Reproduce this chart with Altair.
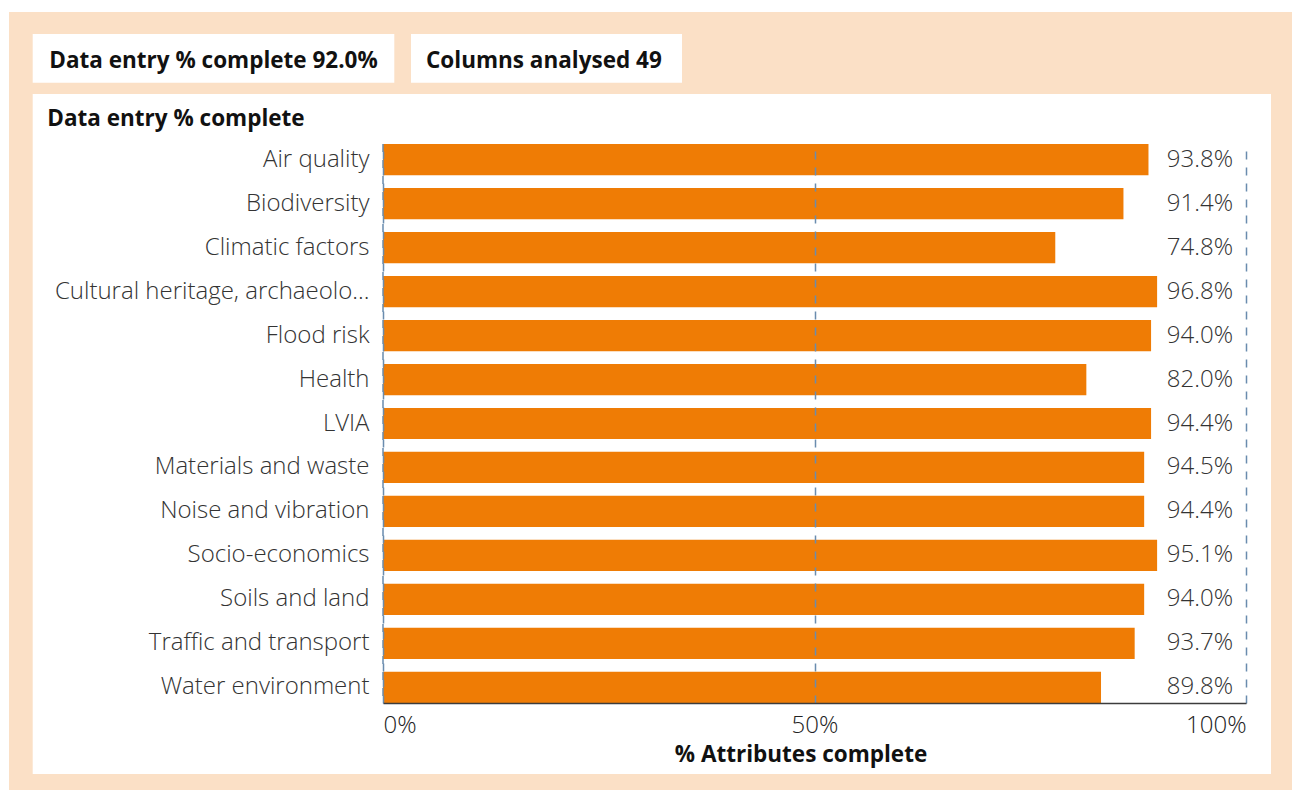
import altair as alt
import pandas as pd

# ---- data ----
categories = [
    "Air quality", "Biodiversity", "Climatic factors",
    "Cultural heritage, archaeolo...", "Flood risk", "Health", "LVIA",
    "Materials and waste", "Noise and vibration", "Socio-economics",
    "Soils and land", "Traffic and transport", "Water environment",
]
# bar lengths as drawn (share of the axis, %)
bar_values = [88.7, 85.8, 77.9, 89.7, 89.0, 81.5, 89.0, 88.2, 88.2, 89.7, 88.2, 87.1, 83.2]
# value labels printed at the right
label_values = [93.8, 91.4, 74.8, 96.8, 94.0, 82.0, 94.4, 94.5, 94.4, 95.1, 94.0, 93.7, 89.8]

kpi_names = ["Data entry % complete", "Columns analysed"]
kpi_values = ["92.0%", "49"]
panel_title = "Data entry % complete"
x_title = "% Attributes complete"
x_ticks = [0, 50, 100]

# ---- layout (pixels) ----
W, H = 863, 559
OX, OY = 383, 144          # plot origin on the page
PAGE_W, PAGE_H = 1292, 790
FONT = "Open Sans"
PEACH = "#FBE0C6"
ORANGE = "#EF7C05"
TEXT = "#333333"
GRID = "#6A8CAE"
LSIZE = 24
BSIZE = 22.5

df = pd.DataFrame({
    "category": categories,
    "bar": bar_values,
    "label": [f"{v:.1f}%" for v in label_values],
})

def px(v):
    return alt.value(v - OX)

def py(v):
    return alt.value(v - OY)

one = pd.DataFrame({"k": [0]})

def rect(x0, x1, y0, y1, color):
    return alt.Chart(one).mark_rect(color=color).encode(
        x=px(x0), x2=px(x1), y=py(y0), y2=py(y1)
    )

def label(txt, x, y, weight="bold", size=BSIZE, color="#111111"):
    return alt.Chart(pd.DataFrame({"t": [txt]})).mark_text(
        align="left", baseline="alphabetic", font=FONT, fontSize=size,
        fontWeight=weight, color=color
    ).encode(x=px(x), y=py(y), text="t:N")

bg = rect(9, PAGE_W, 12, PAGE_H, PEACH)
box1 = rect(32.7, 394.3, 34, 82.7, "white")
box2 = rect(411, 682, 34, 82.7, "white")
panel = rect(32.7, 1271, 94, 774, "white")

kpi1 = label(f"{kpi_names[0]} {kpi_values[0]}", 49.3, 68.3)
kpi2 = label(f"{kpi_names[1]} {kpi_values[1]}", 426, 68.3)
ttl = label(panel_title, 47.3, 126)

y_enc = alt.Y(
    "category:N", sort=categories, title=None,
    scale=alt.Scale(paddingInner=0.29, paddingOuter=0),
    axis=alt.Axis(domain=False, ticks=False, grid=False, labelPadding=14,
                  labelLimit=400, labelFontSize=LSIZE, labelFont=FONT,
                  labelFontWeight=300, labelColor=TEXT, zindex=1),
)

bars = alt.Chart(df).mark_bar(color=ORANGE).encode(
    x=alt.X(
        "bar:Q", title=x_title,
        scale=alt.Scale(domain=[0, 100], nice=False, zero=True),
        axis=alt.Axis(
            values=x_ticks, labelExpr="datum.value + '%'", labelFlush=True,
            ticks=False, grid=True, gridColor=GRID, gridDash=[8, 8],
            gridWidth=1.5, domain=True, domainColor="#3C3C3C", domainWidth=1.5,
            labelFontSize=LSIZE, labelFont=FONT, labelFontWeight=300,
            labelColor="#222222", labelPadding=10,
            titleFontSize=BSIZE, titleFont=FONT, titleFontWeight="bold",
            titleColor="#111111", titleX=417.5, titleY=58,
            titleBaseline="alphabetic", titleAlign="center", zindex=1,
        ),
    ),
    y=y_enc,
)

zero_line = alt.Chart(pd.DataFrame({"v": [0]})).mark_rule(
    color=GRID, strokeDash=[8, 8], strokeWidth=1.5
).encode(x="v:Q")

values = alt.Chart(df).mark_text(
    align="right", baseline="middle", font=FONT, fontSize=LSIZE,
    fontWeight=300, color=TEXT
).encode(
    x=alt.value(850),
    y=alt.Y("category:N", sort=categories),
    text="label:N",
)

chart = alt.layer(bg, box1, box2, panel, kpi1, kpi2, ttl, bars, zero_line, values).properties(
    width=W, height=H,
    padding={"left": OX, "top": OY, "right": PAGE_W - OX - W, "bottom": PAGE_H - OY - H},
    autosize=alt.AutoSizeParams(type="none"),
    background="white",
).configure_view(strokeWidth=0)

chart.save("out.html", embed_options={"renderer": "svg", "actions": False})
